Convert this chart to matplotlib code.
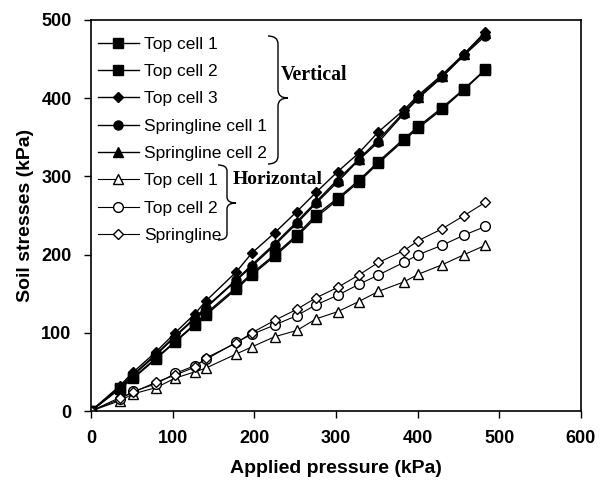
import matplotlib
matplotlib.use("Agg")
import matplotlib.pyplot as plt
from matplotlib.path import Path
from matplotlib.patches import PathPatch

plt.rcParams['font.family'] = ['Liberation Sans', 'DejaVu Sans']

pressure = [0, 35, 52, 80, 103, 127, 141, 178, 197, 225, 252, 276, 302, 328, 352, 383, 401, 430, 457, 483]

v_top1 = [0, 29, 43, 68, 89, 111, 125, 158, 176, 200, 225, 251, 272, 295, 319, 348, 364, 388, 412, 437]
v_top2 = [0, 28, 42, 67, 88, 110, 123, 156, 174, 198, 223, 248, 270, 293, 317, 346, 362, 386, 411, 436]
v_top3 = [0, 32, 50, 76, 100, 124, 141, 178, 202, 228, 255, 280, 306, 330, 357, 385, 404, 430, 457, 485]
v_spr1 = [0, 30, 46, 72, 95, 118, 132, 167, 185, 212, 240, 266, 293, 321, 344, 380, 400, 427, 455, 480]
v_spr2 = [0, 30, 47, 73, 96, 119, 133, 168, 187, 214, 242, 268, 296, 322, 347, 382, 402, 428, 456, 483]

h_top1 = [0, 13, 22, 30, 42, 50, 55, 73, 82, 95, 103, 118, 127, 140, 153, 165, 175, 187, 200, 212]
h_top2 = [0, 15, 25, 35, 48, 58, 66, 88, 98, 110, 122, 136, 148, 162, 174, 190, 200, 212, 225, 236]
h_spr = [0, 17, 24, 37, 46, 56, 68, 87, 100, 116, 130, 145, 158, 174, 190, 205, 218, 233, 250, 267]

labels = ["Top cell 1", "Top cell 2", "Top cell 3", "Springline cell 1", "Springline cell 2",
          "Top cell 1", "Top cell 2", "Springline"]

W, H = 608, 482
fig = plt.figure(figsize=(W / 100, H / 100), dpi=100)
ax = fig.add_axes([91 / W, 1 - 411 / H, (581 - 91) / W, (411 - 20) / H])

k = dict(color='black')
ax.plot(pressure, v_top1, marker='s', ms=7, lw=1.0, mfc='black', label=labels[0], **k)
ax.plot(pressure, v_top2, marker='s', ms=7, lw=1.0, mfc='black', label=labels[1], **k)
ax.plot(pressure, v_top3, marker='D', ms=5, lw=1.0, mfc='black', label=labels[2], **k)
ax.plot(pressure, v_spr1, marker='o', ms=6.5, lw=1.0, mfc='black', label=labels[3], **k)
ax.plot(pressure, v_spr2, marker='^', ms=6.5, lw=1.0, mfc='black', label=labels[4], **k)
ax.plot(pressure, h_top1, marker='^', ms=7, lw=0.8, mfc='white', mew=1.0, label=labels[5], **k)
ax.plot(pressure, h_top2, marker='o', ms=7, lw=0.8, mfc='white', mew=1.0, label=labels[6], **k)
ax.plot(pressure, h_spr, marker='D', ms=5, lw=0.8, mfc='white', mew=1.0, label=labels[7], **k)

ax.set_xlim(0, 600)
ax.set_ylim(0, 500)
ax.set_xticks(range(0, 601, 100))
ax.set_yticks(range(0, 501, 100))
ax.tick_params(direction='out', length=5, width=1, labelsize=13, pad=9)
for t in ax.get_xticklabels() + ax.get_yticklabels():
    t.set_fontweight('bold')
for s in ax.spines.values():
    s.set_linewidth(1.2)
ax.set_xlabel("Applied pressure (kPa)", fontsize=14, fontweight='bold', labelpad=9)
ax.set_ylabel("Soil stresses (kPa)", fontsize=14, fontweight='bold', labelpad=5)

leg = ax.legend(loc='upper left', frameon=False, fontsize=12.5, handlelength=2.35,
                handletextpad=0.3, labelspacing=0.70, borderaxespad=0.0,
                bbox_to_anchor=(0.0, 0.975))


def px(x, y):
    return (x / W, 1 - y / H)


def brace(x0, ytop, ybot, ymid, w, r):
    xm = x0 + w / 2
    pts = [px(x0, ytop), px(xm, ytop), px(xm, ytop + r),
           px(xm, ymid - r), px(xm, ymid), px(x0 + w, ymid),
           px(xm, ymid), px(xm, ymid + r),
           px(xm, ybot - r), px(xm, ybot), px(x0, ybot)]
    codes = [Path.MOVETO, Path.CURVE3, Path.CURVE3,
             Path.LINETO, Path.CURVE3, Path.CURVE3,
             Path.CURVE3, Path.CURVE3,
             Path.LINETO, Path.CURVE3, Path.CURVE3]
    p = PathPatch(Path(pts, codes), transform=fig.transFigure, fill=False,
                  lw=1.0, color='black')
    fig.add_artist(p)


brace(268, 36, 164, 98, 20, 8)
brace(218, 165, 240, 203, 18, 6)

fig.text(*px(281, 75), "Vertical", fontsize=14.3, fontweight='bold',
         family=['Liberation Serif'], va='center', ha='left')
fig.text(*px(233, 180), "Horizontal", fontsize=14.0, fontweight='bold',
         family=['Liberation Serif'], va='center', ha='left')

fig.savefig("out.png", dpi=100)
